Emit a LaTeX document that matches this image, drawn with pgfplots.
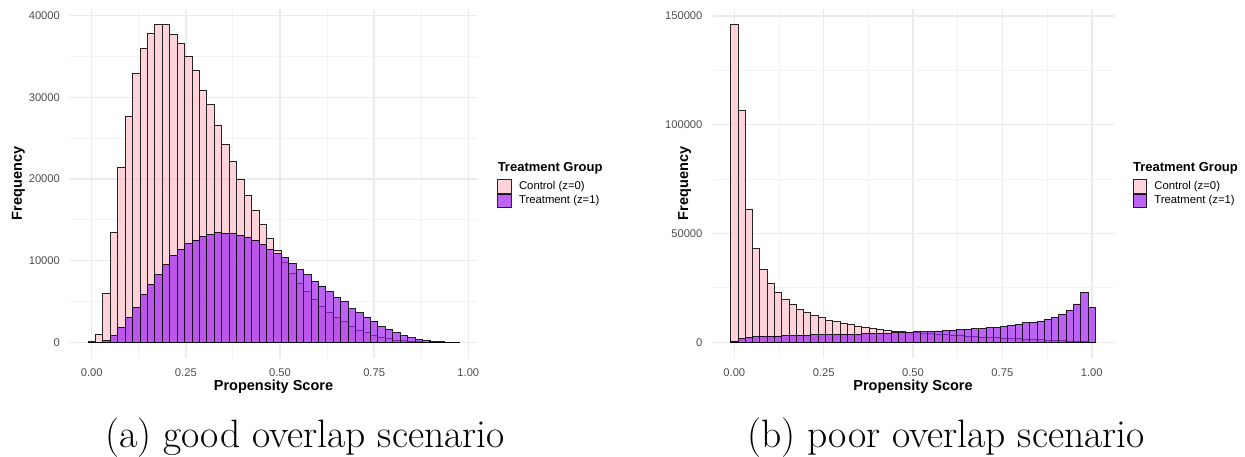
\documentclass[border=0pt]{standalone}
\usepackage{fontspec}
\newfontfamily\sans{Liberation Sans}
\usepackage{pgfplots}
\pgfplotsset{compat=1.18}
\usepackage{pgfplotstable}

\definecolor{ctrl}{RGB}{255,192,203}
\definecolor{trt}{RGB}{160,32,240}
\definecolor{ticktext}{RGB}{77,77,77}
\definecolor{gridmaj}{RGB}{235,235,235}
\definecolor{gridmin}{RGB}{243,243,243}

% bin centre, control count, treatment count
\pgfplotstableread{
x c t
0.0000 50 0
0.0197 1000 30
0.0395 6000 250
0.0592 13500 800
0.0790 21400 1800
0.0987 27700 3000
0.1184 32900 4300
0.1382 36000 5900
0.1579 37800 7100
0.1777 38900 8300
0.1974 38900 9500
0.2171 37700 10650
0.2369 36600 11400
0.2566 35000 12100
0.2764 33300 12500
0.2961 30900 13000
0.3158 29100 13200
0.3356 26600 13400
0.3553 24200 13350
0.3751 22200 13350
0.3948 20000 13100
0.4145 18000 12900
0.4343 16200 12500
0.4540 14400 12000
0.4738 12700 11400
0.4935 11300 10900
0.5132 9800 10400
0.5330 8450 9670
0.5527 7200 8900
0.5725 6200 8300
0.5922 5300 7500
0.6119 4450 6900
0.6317 3700 6200
0.6514 3060 5500
0.6712 2500 5000
0.6909 1900 4100
0.7106 1500 3600
0.7304 1200 3100
0.7501 860 2600
0.7699 600 1900
0.7896 420 1600
0.8093 280 1200
0.8291 180 850
0.8488 110 570
0.8686 70 370
0.8883 40 220
0.9080 20 120
0.9278 10 60
0.9475 5 25
0.9673 2 10
}\gooddata

\pgfplotstableread{
x c t
0.0000 146000 600
0.0204 106700 1800
0.0408 60900 2300
0.0612 43200 2600
0.0816 33500 2750
0.1020 27100 2800
0.1224 23100 2900
0.1429 19700 2950
0.1633 17400 3100
0.1837 15200 3200
0.2041 13500 3250
0.2245 12300 3400
0.2449 11200 3450
0.2653 10200 3500
0.2857 9400 3600
0.3061 8600 3700
0.3265 8000 3750
0.3469 7400 3800
0.3673 6800 3900
0.3878 6400 4000
0.4082 6000 4050
0.4286 5500 4150
0.4490 5200 4300
0.4694 4800 4400
0.4898 4500 4600
0.5102 4300 4800
0.5306 4100 4900
0.5510 3900 5050
0.5714 3600 5200
0.5918 3400 5450
0.6122 3200 5550
0.6327 3000 5800
0.6531 2800 6000
0.6735 2600 6300
0.6939 2450 6400
0.7143 2300 6700
0.7347 2100 6900
0.7551 1900 7200
0.7755 1750 7800
0.7959 1600 8400
0.8163 1400 8900
0.8367 1250 9300
0.8571 1100 9600
0.8776 950 10600
0.8980 800 11600
0.9184 650 13000
0.9388 500 14700
0.9592 350 17600
0.9796 250 23000
1.0000 100 15900
}\poordata

\pgfplotsset{
  histo/.style={
    scale only axis, height=174.75pt, anchor=south west,
    ybar,
    axis line style={draw=none},
    major tick length=0pt, minor tick length=0pt,
    tick style={draw=none},
    grid=both,
    major grid style={draw=gridmaj, line width=0.8pt},
    minor grid style={draw=gridmin, line width=0.45pt},
    xtick={0,0.25,0.5,0.75,1},
    minor xtick={0.125,0.375,0.625,0.875},
    scaled x ticks=false, scaled y ticks=false,
    /pgf/number format/assume math mode=true,
    tick label style={font=\sans\fontsize{5.6}{6.5}\selectfont, text=ticktext},
    xticklabel style={/pgf/number format/fixed, /pgf/number format/fixed zerofill,
      /pgf/number format/precision=2, yshift=-1.8pt},
    yticklabel style={/pgf/number format/fixed, /pgf/number format/precision=0,
      /pgf/number format/1000 sep={}, xshift=-1.5pt},
    xlabel={Propensity Score}, ylabel={Frequency},
    every axis x label/.style={at={(axis description cs:0.5,0)}, anchor=base, yshift=-15.9pt,
      font=\sans\bfseries\fontsize{7.25}{8}\selectfont},
    legend image code/.code={\draw[#1, line width=0.45pt] (0pt,-3.375pt) rectangle (6.75pt,3.375pt);},
    legend style={draw=none, fill=none, inner sep=0pt, outer sep=0pt, anchor=north west,
      font=\sans\fontsize{5.65}{6.5}\selectfont, row sep=0pt, column sep=3.65pt,
      nodes={inner sep=0pt}},
    legend cell align=left,
    clip=false,
  },
  ylab/.style={every axis y label/.style={at={(axis description cs:#1,0.5)}, rotate=90, anchor=base,
      font=\sans\bfseries\fontsize{7.25}{8}\selectfont}},
  ctrlbar/.style={fill=ctrl, fill opacity=0.7, draw=black, draw opacity=0.85, line width=0.45pt, bar shift=0pt},
  trtbar/.style={fill=trt, fill opacity=0.7, draw=black, draw opacity=0.85, line width=0.45pt, bar shift=0pt},
}
\tikzset{legtitle/.style={anchor=base west, inner sep=0pt, font=\sans\bfseries\fontsize{6.5}{7}\selectfont}}

\begin{document}
\begin{tikzpicture}
\useasboundingbox (0,0) rectangle (622.5pt,228pt);

\begin{axis}[histo, at={(35pt,48.9pt)}, width=203.5pt,
  bar width=0.01974,
  xmin=-0.0576, xmax=1.0231, ymin=-1947, ymax=40852,
  ytick={0,10000,20000,30000,40000},
  minor ytick={5000,15000,25000,35000},
  ylab=-0.118,
  legend style={at={(1.050,0.5119)}}]
\addplot[ctrlbar] table[x=x, y=c] {\gooddata};
\addlegendentry{Control (z=0)}
\addplot[trtbar] table[x=x, y=t] {\gooddata};
\addlegendentry{Treatment (z=1)}
\node[legtitle] at (axis description cs:1.050,0.534) {Treatment Group};
\end{axis}

\begin{axis}[histo, at={(356.25pt,48.9pt)}, width=200.5pt,
  bar width=0.020408,
  xmin=-0.0610, xmax=1.0610, ymin=-7304, ymax=153238,
  ytick={0,50000,100000,150000},
  minor ytick={25000,75000,125000},
  ylab=-0.0611,
  legend style={at={(1.0479,0.5119)}}]
\addplot[ctrlbar] table[x=x, y=c] {\poordata};
\addlegendentry{Control (z=0)}
\addplot[trtbar] table[x=x, y=t] {\poordata};
\addlegendentry{Treatment (z=1)}
\node[legtitle] at (axis description cs:1.0479,0.534) {Treatment Group};
\end{axis}

\node[anchor=base, inner sep=0pt, font=\fontsize{19.8}{22}\selectfont] at (152.5pt,4.5pt) {(a) good overlap scenario};
\node[anchor=base, inner sep=0pt, font=\fontsize{19.8}{22}\selectfont] at (473pt,4.5pt) {(b) poor overlap scenario};
\end{tikzpicture}
\end{document}
